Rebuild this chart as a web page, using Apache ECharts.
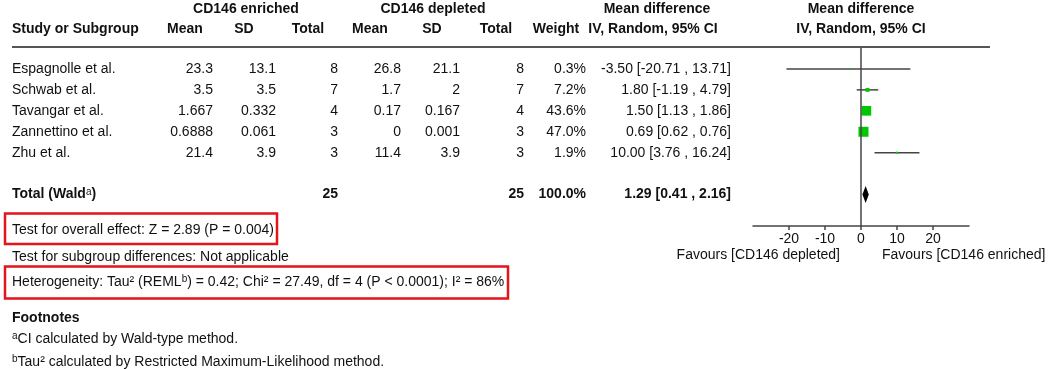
<!DOCTYPE html>
<html>
<head>
<meta charset="utf-8">
<script src="https://cdn.jsdelivr.net/npm/echarts@6/dist/echarts.min.js"></script>
<style>
html,body{margin:0;padding:0;background:#fff;}
#forest{width:1052px;height:369px;}
</style>
</head>
<body>
<div id="forest"></div>
<script>
// study rows
var studies = ['Espagnolle et al.', 'Schwab et al.', 'Tavangar et al.', 'Zannettino et al.', 'Zhu et al.'];
var enrMean = ['23.3', '3.5', '1.667', '0.6888', '21.4'];
var enrSD = ['13.1', '3.5', '0.332', '0.061', '3.9'];
var enrN = [8, 7, 4, 3, 3];
var depMean = ['26.8', '1.7', '0.17', '0', '11.4'];
var depSD = ['21.1', '2', '0.167', '0.001', '3.9'];
var depN = [8, 7, 4, 3, 3];
var weight = [0.3, 7.2, 43.6, 47.0, 1.9];
var md = [-3.50, 1.80, 1.50, 0.69, 10.00];
var ciLow = [-20.71, -1.19, 1.13, 0.62, 3.76];
var ciHigh = [13.71, 4.79, 1.86, 0.76, 16.24];
// pooled
var totalEnrN = 25, totalDepN = 25, totalWeight = 100.0;
var totalMd = 1.29, totalLow = 0.41, totalHigh = 2.16;
var totalRow = 6;
var axisTicks = [-20, -10, 0, 10, 20];

var FONT = '14px "Liberation Sans", Arial, sans-serif';
var BOLD = 'bold 14px "Liberation Sans", Arial, sans-serif';
var INK = '#111';

var chart = echarts.init(document.getElementById('forest'));

var studyData = [];
for (var i = 0; i < studies.length; i++) {
    studyData.push([md[i], i, ciLow[i], ciHigh[i], weight[i]]);
}

var option = {
    animation: false,
    grid: { left: 753, right: 83, top: 48, bottom: 143 },
    xAxis: {
        type: 'value', min: -30, max: 30, interval: 10,
        axisLine: { onZero: false, lineStyle: { color: '#444', width: 1.5 } },
        axisTick: { customValues: axisTicks, length: 4, lineStyle: { color: '#444', width: 1.5 } },
        axisLabel: { customValues: axisTicks, color: INK, fontSize: 14, fontFamily: 'Liberation Sans', margin: 6 },
        splitLine: { show: false }
    },
    yAxis: { type: 'value', inverse: true, min: -1, max: 7.5, show: false },
    series: [
        {
            type: 'custom',
            data: studyData,
            encode: { x: 0, y: 1 },
            renderItem: function (params, api) {
                var y = api.value(1);
                var p = api.coord([api.value(0), y]);
                var l = api.coord([api.value(2), y]);
                var r = api.coord([api.value(3), y]);
                var s = Math.max(Math.sqrt(api.value(4) / 47) * 10, 1.5);
                return {
                    type: 'group',
                    children: [
                        { type: 'line', shape: { x1: l[0], y1: l[1], x2: r[0], y2: r[1] }, style: { stroke: '#444', lineWidth: 1.5 } },
                        { type: 'rect', shape: { x: p[0] - s / 2, y: p[1] - s / 2, width: s, height: s }, style: { fill: '#00c800' } }
                    ]
                };
            },
            markLine: {
                silent: true, symbol: 'none', label: { show: false },
                lineStyle: { color: '#444', width: 1.5, type: 'solid' },
                data: [{ xAxis: 0 }]
            },
            z: 3
        },
        {
            type: 'custom',
            data: [[totalMd, totalRow, totalLow, totalHigh]],
            encode: { x: 0, y: 1 },
            renderItem: function (params, api) {
                var y = api.value(1);
                var c = api.coord([api.value(0), y]);
                var l = api.coord([api.value(2), y]);
                var r = api.coord([api.value(3), y]);
                var h = 8.5;
                return {
                    type: 'polygon',
                    shape: { points: [[l[0], c[1]], [c[0], c[1] - h], [r[0], c[1]], [c[0], c[1] + h]] },
                    style: { fill: '#000' }
                };
            },
            z: 4
        }
    ]
};
chart.setOption(option);

function rowY(i) {
    return chart.convertToPixel({ gridIndex: 0 }, [0, i])[1];
}
function txt(s, x, y, align, font, extra) {
    var st = { text: s, x: x, y: y, align: align || 'left', verticalAlign: 'middle', font: font || FONT, fill: INK };
    if (extra) { for (var k in extra) st[k] = extra[k]; }
    return { type: 'text', style: st, z: 10 };
}
var supA = { sup: { fontSize: 10, verticalAlign: 'top', lineHeight: 15, padding: [0, 0, 5, 0] } };

var g = [];
// header
g.push(txt('CD146 enriched', 246, 9, 'center', BOLD));
g.push(txt('CD146 depleted', 433, 9, 'center', BOLD));
g.push(txt('Mean difference', 657, 9, 'center', BOLD));
g.push(txt('Mean difference', 861, 9, 'center', BOLD));
g.push(txt('Study or Subgroup', 12, 29, 'left', BOLD));
var hdr = [['Mean', 185], ['SD', 244], ['Total', 308], ['Mean', 370], ['SD', 432], ['Total', 496], ['Weight', 556], ['IV, Random, 95% CI', 653], ['IV, Random, 95% CI', 861]];
hdr.forEach(function (h) { g.push(txt(h[0], h[1], 29, 'center', BOLD)); });
g.push({ type: 'line', shape: { x1: 12, y1: 47, x2: 990, y2: 47 }, style: { stroke: '#555', lineWidth: 2 }, z: 10 });

// study rows
for (var j = 0; j < studies.length; j++) {
    var y = rowY(j);
    g.push(txt(studies[j], 12, y));
    g.push(txt(enrMean[j], 213, y, 'right'));
    g.push(txt(enrSD[j], 276, y, 'right'));
    g.push(txt(String(enrN[j]), 338, y, 'right'));
    g.push(txt(depMean[j], 401, y, 'right'));
    g.push(txt(depSD[j], 460, y, 'right'));
    g.push(txt(String(depN[j]), 524, y, 'right'));
    g.push(txt(weight[j].toFixed(1) + '%', 586, y, 'right'));
    g.push(txt(md[j].toFixed(2) + ' [' + ciLow[j].toFixed(2) + ' , ' + ciHigh[j].toFixed(2) + ']', 731, y, 'right'));
}
// total row
var ty = rowY(totalRow);
g.push(txt('Total (Wald{sup|a})', 12, ty, 'left', BOLD, { rich: supA }));
g.push(txt(String(totalEnrN), 338, ty, 'right', BOLD));
g.push(txt(String(totalDepN), 524, ty, 'right', BOLD));
g.push(txt(totalWeight.toFixed(1) + '%', 586, ty, 'right', BOLD));
g.push(txt(totalMd.toFixed(2) + ' [' + totalLow.toFixed(2) + ' , ' + totalHigh.toFixed(2) + ']', 731, ty, 'right', BOLD));

// statistics and footnotes
g.push(txt('Test for overall effect: Z = 2.89 (P = 0.004)', 12, 230));
g.push({ type: 'rect', shape: { x: 5, y: 213.5, width: 272, height: 30.5 }, style: { fill: 'none', stroke: '#e3141c', lineWidth: 2.5 }, z: 10 });
g.push(txt('Test for subgroup differences: Not applicable', 12, 257));
g.push(txt('Heterogeneity: Tau² (REML{sup|b}) = 0.42; Chi² = 27.49, df = 4 (P < 0.0001); I² = 86%', 12, 282, 'left', FONT, { rich: supA }));
g.push({ type: 'rect', shape: { x: 5, y: 266.5, width: 503, height: 32 }, style: { fill: 'none', stroke: '#e3141c', lineWidth: 2.5 }, z: 10 });
g.push(txt('Footnotes', 12, 318, 'left', BOLD));
g.push(txt('{sup|a}CI calculated by Wald-type method.', 12, 339, 'left', FONT, { rich: supA }));
g.push(txt('{sup|b}Tau² calculated by Restricted Maximum-Likelihood method.', 12, 362, 'left', FONT, { rich: supA }));

// favours labels
g.push(txt('Favours [CD146 depleted]', 840, 255, 'right'));
g.push(txt('Favours [CD146 enriched]', 882, 255, 'left'));

chart.setOption({ graphic: g });
</script>
</body>
</html>
